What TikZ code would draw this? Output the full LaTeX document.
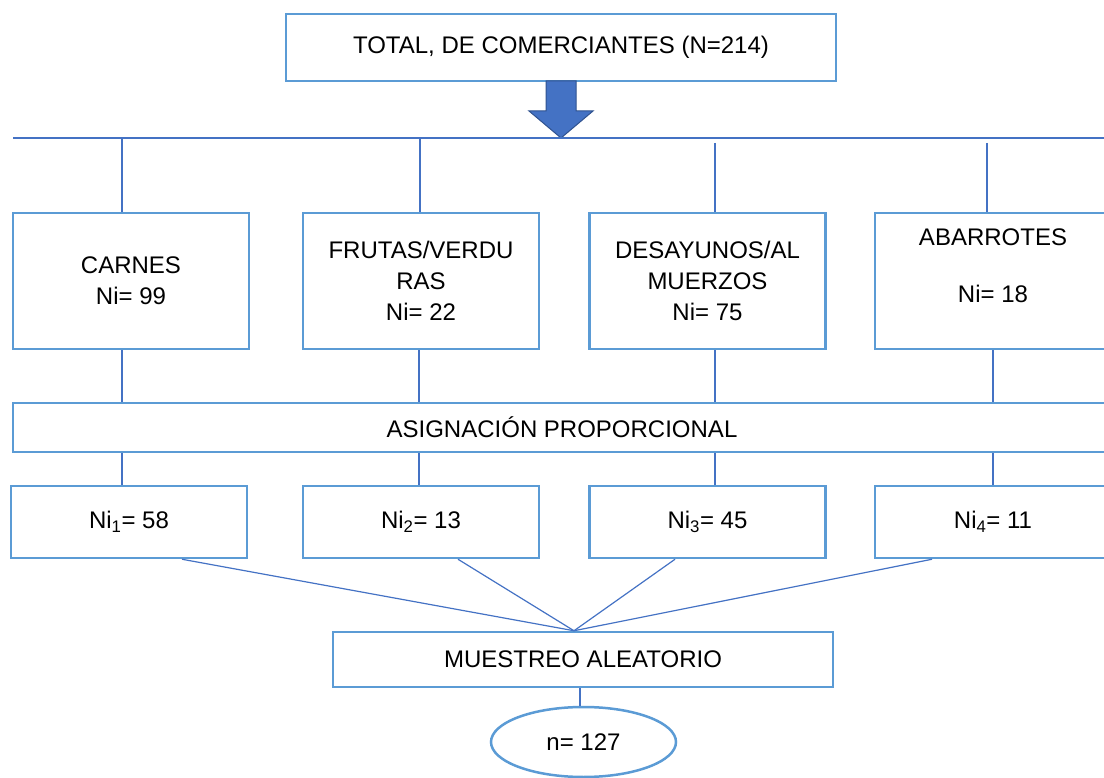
\documentclass[tikz,border=0pt]{standalone}
\usepackage{fontspec}
\setmainfont{Liberation Sans}
\usetikzlibrary{shapes.geometric}
\definecolor{boxblue}{HTML}{5B9BD5}
\definecolor{lineblue}{HTML}{4472C4}
\definecolor{arrowedge}{HTML}{2F528F}

\begin{document}
\begin{tikzpicture}[x=1pt, y=-1pt,
  every node/.style={align=center, inner sep=0pt, font=\fontsize{24}{31}\selectfont},
  box/.style={draw=boxblue, line width=2.5pt, fill=white, minimum width=236pt},
  catbox/.style={box, minimum height=136pt},
  subbox/.style={box, minimum height=72pt},
  link/.style={draw=lineblue, line width=1.2pt},
  bigarrow/.style={fill=lineblue, draw=arrowedge, line width=1pt, line join=miter}]
\useasboundingbox (0,0) rectangle (1104,778);
\node[box, minimum width=550pt, minimum height=67pt] (total) at (561,47.5) {TOTAL, DE COMERCIANTES (N=214)};
\draw[bigarrow] (546,81) -- (576,81) -- (576,111) -- (593,111) -- (561,138) -- (529,111) -- (546,111) -- cycle;
\node[catbox] (carnes) at (131,281) {CARNES\\Ni= 99};
\node[catbox] (frutas) at (421,281) {FRUTAS/VERDU\\RAS\\Ni= 22};
\node[catbox] (desay) at (707.5,281) {DESAYUNOS/AL\\MUERZOS\\Ni= 75};
\node[catbox] (abarr) at (993,281) {ABARROTES\\[26pt]Ni= 18\\\mbox{}};
\node[box, minimum width=1098pt, minimum height=49pt] (asign) at (562,427.5) {ASIGNACIÓN PROPORCIONAL};
\node[subbox] (ni1) at (129,522) {Ni\textsubscript{1}= 58};
\node[subbox] (ni2) at (421,522) {Ni\textsubscript{2}= 13};
\node[subbox] (ni3) at (707.5,522) {Ni\textsubscript{3}= 45};
\node[subbox] (ni4) at (993,522) {Ni\textsubscript{4}= 11};
\node[box, minimum width=500pt, minimum height=55pt] (muestreo) at (583,659.5) {MUESTREO ALEATORIO};
\node[ellipse, draw=boxblue, line width=2.5pt, minimum width=185pt, minimum height=70pt] (tam) at (583.5,742) {n= 127};

\coordinate (busL) at (13,138);
\coordinate (busR) at (1104,138);
\draw[link] (busL) -- (busR);
\foreach \n/\x/\y in {carnes/122/138, frutas/420/138, desay/715/143, abarr/987/143}{
  \coordinate (top-\n) at (\x,\y);
  \draw[link] (top-\n) -- (top-\n |- \n.north);
}
\foreach \a/\b/\x in {carnes/ni1/122, frutas/ni2/419, desay/ni3/715, abarr/ni4/993}{
  \draw[link] (\a.south -| \x,0) -- (asign.north -| \x,0);
  \draw[link] (asign.south -| \x,0) -- (\b.north -| \x,0);
}
\coordinate (meet) at (muestreo.north -| 574,0);
\foreach \n/\x in {ni1/182, ni2/458, ni3/675, ni4/932}
  \draw[link] (\n.south -| \x,0) -- (meet);
\draw[link] (muestreo.south -| 580,0) -- (tam.north -| 580,0);
\end{tikzpicture}
\end{document}
